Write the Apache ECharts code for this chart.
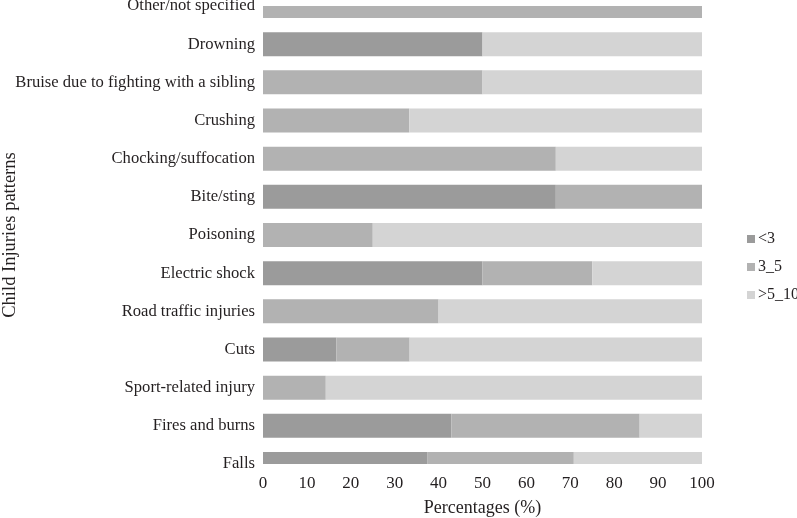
<!DOCTYPE html>
<html>
<head>
<meta charset="utf-8">
<script src="https://cdn.jsdelivr.net/npm/echarts@6/dist/echarts.min.js"></script>
<style>html,body{margin:0;padding:0;background:#fff}#c{width:797px;height:518px}</style>
</head>
<body>
<div id="c"></div>
<script>
const categories = ["Falls","Fires and burns","Sport-related injury","Cuts","Road traffic injuries","Electric shock","Poisoning","Bite/sting","Chocking/suffocation","Crushing","Bruise due to fighting with a sibling","Drowning","Other/not specified"];
const seriesNames = ["<3","3_5",">5_10"];
const under3 = [37.5,42.9,0,16.7,0,50,0,66.7,0,0,0,50,0];
const from3to5 = [33.3,42.9,14.3,16.7,40,25,25,33.3,66.7,33.3,50,0,100];
const from5to10 = [29.2,14.2,85.7,66.6,60,25,75,0,33.3,66.7,50,50,0];
const xTicks = {min:0,max:100,interval:10};
const colors = ["#9b9b9b","#b2b2b2","#d4d4d4"];
const font = "'Liberation Serif','Times New Roman',serif";
const txt = "#231f20";

const chart = echarts.init(document.getElementById('c'), null, {renderer:'canvas'});
const values = [under3, from3to5, from5to10];

function stackedData(i){
  return categories.map((c,k)=>{
    let s = 0;
    for (let j=0;j<i;j++) s += values[j][k];
    return [s, s + values[i][k], k];
  });
}

function renderBar(params, api){
  const a = api.coord([api.value(0), api.value(2)]);
  const b = api.coord([api.value(1), api.value(2)]);
  const h = api.size([0,1])[1] * 0.63;
  const cs = params.coordSys;
  const shape = echarts.graphic.clipRectByRect(
    {x:a[0], y:a[1]-h/2, width:b[0]-a[0], height:h},
    {x:cs.x, y:cs.y, width:cs.width, height:cs.height}
  );
  if (!shape) return;
  return {type:'rect', shape:shape, style:api.style()};
}

chart.setOption({
  animation:false,
  textStyle:{fontFamily:font,color:txt},
  grid:{left:263,right:95,top:6,bottom:54,containLabel:false,outerBoundsMode:'none'},
  legend:{
    orient:'vertical',left:742,top:226,itemWidth:8,itemHeight:8,itemGap:12,icon:'rect',
    textStyle:{fontFamily:font,fontSize:16,color:txt,padding:[0,0,0,-2]},
    data:seriesNames
  },
  xAxis:{
    type:'value',min:xTicks.min,max:xTicks.max,interval:xTicks.interval,
    name:'Percentages (%)',nameLocation:'middle',nameGap:35,nameMoveOverlap:false,
    nameTextStyle:{fontFamily:font,fontSize:18,color:txt},
    axisLine:{show:false},axisTick:{show:false},splitLine:{show:false},
    axisLabel:{fontFamily:font,fontSize:17,color:txt,margin:11}
  },
  yAxis:{
    type:'category',data:categories,boundaryGap:false,
    name:'Child Injuries patterns',nameLocation:'middle',nameGap:243,nameMoveOverlap:false,
    nameTextStyle:{fontFamily:font,fontSize:18.5,color:txt},
    axisLine:{show:false},axisTick:{show:false},splitLine:{show:false},
    axisLabel:{fontFamily:font,fontSize:16.6,color:txt,margin:8}
  },
  series: seriesNames.map((n,i)=>({
    name:n,type:'custom',
    itemStyle:{color:colors[i]},
    encode:{x:[0,1],y:2},
    renderItem:renderBar,
    data:stackedData(i)
  }))
});
</script>
</body>
</html>
